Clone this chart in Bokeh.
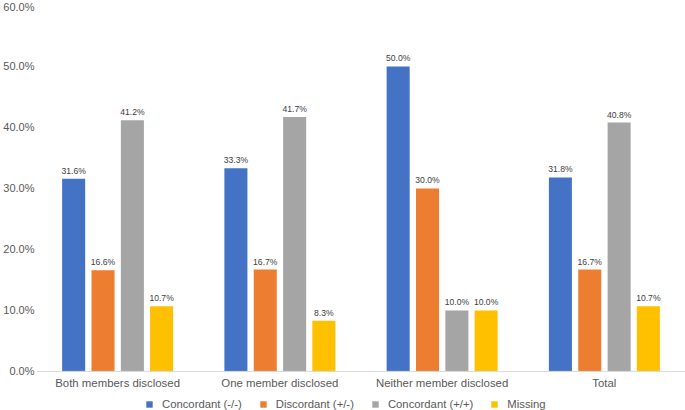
from bokeh.plotting import figure
from bokeh.models import ColumnDataSource, FactorRange, Legend, LegendItem, LabelSet, FixedTicker, Range1d, Span
from bokeh.transform import dodge
from bokeh.embed import file_html
from bokeh.resources import INLINE
from bokeh.core.properties import value

categories = ["Both members disclosed", "One member disclosed", "Neither member disclosed", "Total"]
series_names = ["Concordant (-/-)", "Discordant (+/-)", "Concordant (+/+)", "Missing"]
concordant_neg = [31.6, 33.3, 50.0, 31.8]
discordant = [16.6, 16.7, 30.0, 16.7]
concordant_pos = [41.2, 41.7, 10.0, 40.8]
missing = [10.7, 8.3, 10.0, 10.7]
colors = ["#4472C4", "#ED7D31", "#A5A5A5", "#FFC000"]
y_ticks = [0, 10, 20, 30, 40, 50, 60]

FONT = "Liberation Sans"
TXT = "#595959"

p = figure(
    width=685, height=410,
    x_range=FactorRange(factors=categories, range_padding=0),
    y_range=Range1d(-6.41, 60),
    output_backend="svg", toolbar_location=None,
    min_border_left=34, min_border_right=0, min_border_top=5, min_border_bottom=0,
)
p.outline_line_color = None
p.xgrid.visible = False
p.ygrid.visible = False
p.background_fill_color = "white"
p.xaxis.visible = False

# baseline at 0
p.add_layout(Span(location=0, dimension="width", line_color="#D9D9D9", line_width=1))

series = [concordant_neg, discordant, concordant_pos, missing]
offsets = [-0.271, -0.090, 0.091, 0.271]
items = []
for name, vals, col, off in zip(series_names, series, colors, offsets):
    src = ColumnDataSource(dict(cat=categories, val=vals, lab=[f"{v:.1f}%" for v in vals]))
    r = p.vbar(x=dodge("cat", off, range=p.x_range), top="val", bottom=0, width=0.142, source=src,
               fill_color=col, line_color=None)
    items.append(LegendItem(label=name, renderers=[r]))
    labels = LabelSet(x=dodge("cat", off, range=p.x_range), y="val", text="lab", source=src,
                      text_align="center", text_baseline="bottom", y_offset=3,
                      text_font=value(FONT), text_font_size="8.6px", text_color="#404040")
    p.add_layout(labels)

# category labels below the baseline
cat_src = ColumnDataSource(dict(cat=categories, y0=[0] * len(categories)))
p.add_layout(LabelSet(x="cat", y="y0", text="cat", source=cat_src,
                      text_align="center", text_baseline="top", y_offset=-6,
                      text_font=value(FONT), text_font_size="11.4px", text_color=TXT))

p.yaxis.ticker = FixedTicker(ticks=y_ticks)
p.yaxis.major_label_overrides = {t: f"{t:.1f}%" for t in y_ticks}
p.yaxis.axis_line_color = None
p.yaxis.major_tick_line_color = None
p.yaxis.minor_tick_line_color = None
p.yaxis.major_tick_out = 0
p.yaxis.major_tick_in = 0
p.yaxis.minor_tick_out = 0
p.yaxis.minor_tick_in = 0
p.yaxis.major_label_standoff = 2
p.yaxis.major_label_text_font = FONT
p.yaxis.major_label_text_font_size = "11px"
p.yaxis.major_label_text_color = TXT

legend = Legend(items=items, orientation="horizontal", location=(109, 0),
                border_line_color=None, background_fill_alpha=0,
                padding=0, margin=0, spacing=17, label_standoff=9,
                glyph_width=8, glyph_height=8, label_height=12,
                label_text_font=FONT, label_text_font_size="11.3px", label_text_color=TXT)
p.add_layout(legend, "center")

open("out.html", "w").write(file_html(p, INLINE))
